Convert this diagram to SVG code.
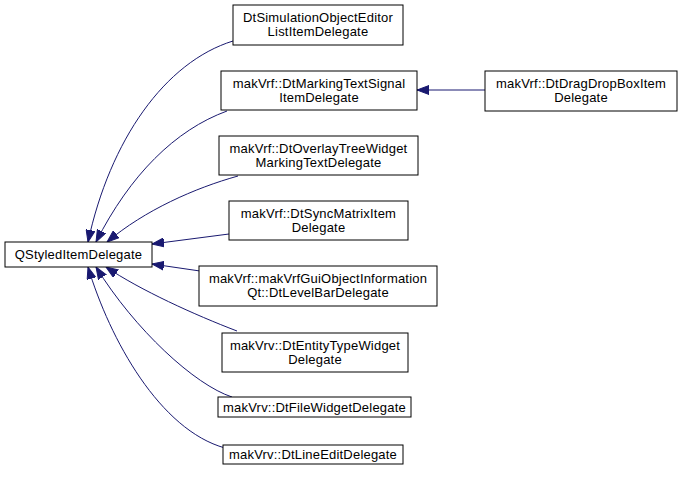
<svg xmlns="http://www.w3.org/2000/svg" width="683" height="480" viewBox="0 0 683 480">
<style>
.box{fill:#ffffff;stroke:#000000;stroke-width:1}
.lbl{font-family:"Liberation Sans",Arial,sans-serif;font-size:13px;letter-spacing:0.2px;fill:#000000;text-anchor:middle}
.edge{fill:none;stroke:#191970;stroke-width:1;marker-end:url(#arr)}
</style>
<defs>
<marker id="arr" markerUnits="userSpaceOnUse" markerWidth="13" markerHeight="10" refX="12" refY="5" orient="auto">
<path d="M0,0.5 L12,5 L0,9.5 z" fill="#191970" stroke="#191970"/>
</marker>
</defs>
<rect width="683" height="480" fill="#ffffff"/>
<g id="connectors">
<path class="edge" d="M233,41 C165,62 110,140 88,242"/>
<path class="edge" d="M227,111 C175,130 130,175 96,242"/>
<path class="edge" d="M238,176 C195,188 145,210 107,242"/>
<path class="edge" d="M229,234 L152,244"/>
<path class="edge" d="M200,271 L152,264"/>
<path class="edge" d="M237,331 C195,315 140,290 106,267"/>
<path class="edge" d="M232,397 C195,385 135,330 96,267"/>
<path class="edge" d="M225,448 C160,430 110,340 88,267"/>
<path class="edge" d="M485,90 L417,90"/>
</g>
<g id="QStyledItemDelegate">
<rect class="box" x="5" y="242" width="147" height="25"/>
<text class="lbl" x="78.5" y="259">QStyledItemDelegate</text>
</g>
<g id="DtSimulationObjectEditorListItemDelegate">
<rect class="box" x="233" y="5" width="170" height="40"/>
<text class="lbl" x="318" y="22">DtSimulationObjectEditor</text>
<text class="lbl" x="318" y="36">ListItemDelegate</text>
</g>
<g id="DtMarkingTextSignalItemDelegate">
<rect class="box" x="221" y="71" width="196" height="39"/>
<text class="lbl" x="319" y="88">makVrf::DtMarkingTextSignal</text>
<text class="lbl" x="319" y="102">ItemDelegate</text>
</g>
<g id="DtDragDropBoxItemDelegate">
<rect class="box" x="485" y="71" width="192" height="40"/>
<text class="lbl" x="581" y="88">makVrf::DtDragDropBoxItem</text>
<text class="lbl" x="581" y="102">Delegate</text>
</g>
<g id="DtOverlayTreeWidgetMarkingTextDelegate">
<rect class="box" x="219" y="136" width="199" height="39"/>
<text class="lbl" x="318.5" y="153">makVrf::DtOverlayTreeWidget</text>
<text class="lbl" x="318.5" y="167">MarkingTextDelegate</text>
</g>
<g id="DtSyncMatrixItemDelegate">
<rect class="box" x="229" y="201" width="179" height="39"/>
<text class="lbl" x="318.5" y="218">makVrf::DtSyncMatrixItem</text>
<text class="lbl" x="318.5" y="232">Delegate</text>
</g>
<g id="DtLevelBarDelegate">
<rect class="box" x="199" y="266" width="238" height="40"/>
<text class="lbl" x="318" y="283">makVrf::makVrfGuiObjectInformation</text>
<text class="lbl" x="318" y="297">Qt::DtLevelBarDelegate</text>
</g>
<g id="DtEntityTypeWidgetDelegate">
<rect class="box" x="222" y="333" width="186" height="39"/>
<text class="lbl" x="315" y="350">makVrv::DtEntityTypeWidget</text>
<text class="lbl" x="315" y="364">Delegate</text>
</g>
<g id="DtFileWidgetDelegate">
<rect class="box" x="218" y="397" width="193" height="20"/>
<text class="lbl" x="314.5" y="411.5">makVrv::DtFileWidgetDelegate</text>
</g>
<g id="DtLineEditDelegate">
<rect class="box" x="223" y="445" width="180" height="19"/>
<text class="lbl" x="313" y="459">makVrv::DtLineEditDelegate</text>
</g>
</svg>
